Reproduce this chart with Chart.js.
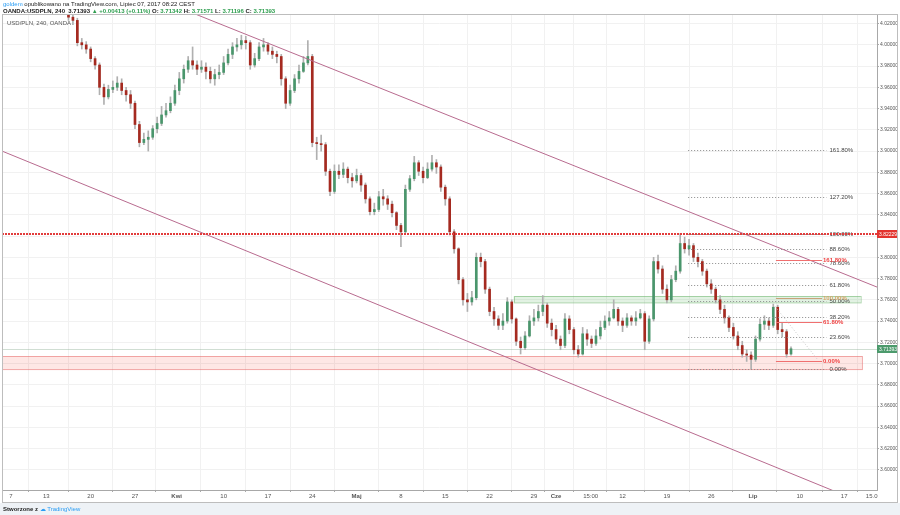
<!DOCTYPE html>
<html>
<head>
<meta charset="utf-8">
<script src="https://cdn.jsdelivr.net/npm/chart.js@4.4.0/dist/chart.umd.min.js"></script>
<style>
    html, body { margin: 0; padding: 0; background: #fff; }
    #wrap { position: relative; width: 900px; height: 515px; overflow: hidden; font-family: "Liberation Sans", Arial, sans-serif; }
    #footer { position: absolute; left: 0; top: 503px; width: 900px; height: 12px; background: #eef2f6; }
    canvas { position: absolute; left: 0; top: 0; }
    .txt { position: absolute; white-space: nowrap; font-size: 6px; line-height: 7px; color: #222; }
    .g { color: #2e9e4f; }
    .b { color: #2a9df4; }
</style>
</head>
<body>
<div id="wrap">
    <div id="footer"></div>
    <canvas id="chart" width="900" height="515"></canvas>
    <div class="txt" style="left:3px;top:1px;"><span class="b">goldem</span> opublikowano na TradingView.com, Lipiec 07, 2017 08:22 CEST</div>
    <div class="txt" style="left:3px;top:8px;font-weight:bold;">OANDA:USDPLN, 240&nbsp; 3.71393 <span class="g">▲ +0.00413 (+0.11%)</span> O: <span class="g">3.71342</span> H: <span class="g">3.71571</span> L: <span class="g">3.71196</span> C: <span class="g">3.71393</span></div>
    <div class="txt" style="left:7px;top:20px;color:#555;">USD/PLN, 240, OANDA</div>
    <div class="txt" style="left:3px;top:506px;font-weight:bold;">Stworzone z <span class="b" style="font-weight:normal;">&#9729; TradingView</span></div>
</div>
<script>
// Dane: swiece 12h od 16 marca (dzien 0 = 7 marca, dni handlowe)
const firstDay = 6.5;
const candleStep = 0.5;
const firstOpen = 4.032;

const closes = [
    4.026, 4.023, 4.002, 4.000, 3.996, 3.987, 3.981, 3.960, 3.951, 3.958,
    3.960, 3.964, 3.957, 3.953, 3.945, 3.925, 3.908, 3.911, 3.913, 3.921,
    3.926, 3.934, 3.938, 3.945, 3.957, 3.968, 3.977, 3.985, 3.981, 3.977,
    3.979, 3.975, 3.968, 3.972, 3.974, 3.983, 3.991, 3.998, 4.000, 4.004,
    4.002, 3.981, 3.987, 3.998, 4.000, 3.994, 3.991, 3.989, 3.968, 3.945,
    3.957, 3.968, 3.975, 3.983, 3.989, 3.908, 3.907, 3.906, 3.881, 3.862,
    3.881, 3.878, 3.883, 3.875, 3.872, 3.877, 3.868, 3.855, 3.843, 3.845,
    3.857, 3.855, 3.850, 3.842, 3.830, 3.824, 3.864, 3.874, 3.889, 3.881,
    3.875, 3.883, 3.889, 3.885, 3.866, 3.855, 3.824, 3.808, 3.779, 3.760,
    3.758, 3.762, 3.800, 3.796, 3.770, 3.749, 3.742, 3.736, 3.740, 3.758,
    3.742, 3.721, 3.715, 3.726, 3.740, 3.743, 3.749, 3.755, 3.738, 3.732,
    3.723, 3.717, 3.742, 3.732, 3.713, 3.709, 3.728, 3.723, 3.719, 3.726,
    3.734, 3.740, 3.743, 3.751, 3.740, 3.736, 3.743, 3.740, 3.743, 3.747,
    3.721, 3.742, 3.796, 3.789, 3.770, 3.760, 3.779, 3.787, 3.813, 3.808,
    3.811, 3.800, 3.796, 3.787, 3.775, 3.770, 3.760, 3.751, 3.743, 3.734,
    3.726, 3.717, 3.709, 3.708, 3.704, 3.723, 3.737, 3.740, 3.736, 3.753,
    3.732, 3.730, 3.709, 3.71393
];
const highs = [
    4.034, 4.028, 4.025, 4.006, 4.003, 3.998, 3.989, 3.983, 3.963, 3.962,
    3.966, 3.970, 3.968, 3.960, 3.957, 3.947, 3.928, 3.917, 3.919, 3.924,
    3.932, 3.942, 3.945, 3.951, 3.962, 3.974, 3.981, 3.989, 3.998, 3.985,
    3.985, 3.983, 3.979, 3.977, 3.981, 3.989, 3.996, 4.002, 4.006, 4.009,
    4.008, 4.004, 3.992, 4.002, 4.006, 4.002, 3.998, 3.994, 3.991, 3.970,
    3.962, 3.972, 3.981, 3.989, 4.004, 3.991, 3.913, 3.915, 3.908, 3.883,
    3.887, 3.887, 3.889, 3.885, 3.879, 3.883, 3.879, 3.870, 3.857, 3.851,
    3.862, 3.864, 3.858, 3.853, 3.843, 3.832, 3.868, 3.877, 3.895, 3.891,
    3.885, 3.889, 3.896, 3.892, 3.887, 3.868, 3.857, 3.826, 3.809, 3.781,
    3.766, 3.768, 3.804, 3.804, 3.798, 3.772, 3.753, 3.745, 3.747, 3.762,
    3.760, 3.743, 3.725, 3.730, 3.745, 3.751, 3.755, 3.764, 3.757, 3.742,
    3.736, 3.726, 3.747, 3.745, 3.734, 3.717, 3.734, 3.732, 3.726, 3.732,
    3.740, 3.745, 3.749, 3.760, 3.753, 3.743, 3.747, 3.745, 3.749, 3.751,
    3.749, 3.745, 3.800, 3.802, 3.792, 3.774, 3.783, 3.792, 3.8223, 3.819,
    3.817, 3.813, 3.804, 3.798, 3.789, 3.779, 3.772, 3.764, 3.755, 3.745,
    3.738, 3.730, 3.721, 3.713, 3.711, 3.726, 3.742, 3.745, 3.743, 3.756,
    3.755, 3.738, 3.732, 3.71571
];
const lows = [
    4.023, 4.019, 3.999, 3.996, 3.992, 3.984, 3.977, 3.953, 3.944, 3.949,
    3.955, 3.957, 3.953, 3.947, 3.940, 3.921, 3.904, 3.906, 3.900, 3.911,
    3.917, 3.924, 3.932, 3.936, 3.943, 3.953, 3.964, 3.974, 3.977, 3.972,
    3.974, 3.968, 3.964, 3.962, 3.968, 3.972, 3.981, 3.987, 3.994, 3.996,
    3.996, 3.977, 3.979, 3.985, 3.994, 3.991, 3.987, 3.983, 3.962, 3.940,
    3.943, 3.955, 3.964, 3.974, 3.981, 3.904, 3.892, 3.900, 3.877, 3.858,
    3.860, 3.874, 3.875, 3.870, 3.866, 3.870, 3.862, 3.851, 3.840, 3.840,
    3.843, 3.849, 3.845, 3.838, 3.826, 3.810, 3.823, 3.862, 3.872, 3.877,
    3.870, 3.874, 3.881, 3.879, 3.862, 3.849, 3.821, 3.804, 3.775, 3.755,
    3.749, 3.755, 3.760, 3.791, 3.766, 3.745, 3.736, 3.732, 3.732, 3.738,
    3.738, 3.717, 3.709, 3.713, 3.725, 3.736, 3.740, 3.745, 3.734, 3.726,
    3.719, 3.713, 3.715, 3.728, 3.709, 3.706, 3.708, 3.717, 3.715, 3.717,
    3.723, 3.732, 3.736, 3.742, 3.736, 3.730, 3.734, 3.736, 3.736, 3.742,
    3.713, 3.719, 3.740, 3.785, 3.766, 3.757, 3.758, 3.777, 3.785, 3.804,
    3.802, 3.796, 3.791, 3.783, 3.772, 3.766, 3.757, 3.747, 3.738, 3.730,
    3.723, 3.713, 3.706, 3.702, 3.695, 3.702, 3.721, 3.732, 3.732, 3.734,
    3.728, 3.725, 3.706, 3.708
];

// Os czasu
const tickDays = [0, 4, 9, 14, 18.7, 24, 29, 34, 39, 44, 49, 54, 59, 61.5, 65.4, 69, 74, 79, 83.7, 89, 94, 97.1];
const tickLabels = ['7', '13', '20', '27', 'Kwi', '10', '17', '24', 'Maj', '8', '15', '22', '29', 'Cze', '15:00', '12', '19', '26', 'Lip', '10', '17', '15.0'];
const monthLabels = ['Kwi', 'Maj', 'Cze', 'Lip'];
const priceTicks = [3.60, 3.62, 3.64, 3.66, 3.68, 3.70, 3.72, 3.74, 3.76, 3.78, 3.80,
                    3.82, 3.84, 3.86, 3.88, 3.90, 3.92, 3.94, 3.96, 3.98, 4.00, 4.02];

// Linie kanalu [dzien, cena]
const channelUpper = [[16, 4.045], [98, 3.771]];
const channelLower = [[-1, 3.900], [98, 3.5625]];

// Poziomy
const resistance = 3.82229;
const lastPrice = 3.71393;
const greenZone = { from: 56.7, to: 95.8, low: 3.7575, high: 3.7635 };
const redZone = { from: -1, to: 96.0, low: 3.6945, high: 3.7068 };

// Fibonacci
const fibRatios = [0, 0.236, 0.382, 0.5, 0.618, 0.786, 0.886, 1, 1.272, 1.618];
const fibLow = 3.6953, fibHigh = 3.82229;
const fibFrom = 76.4, fibTo = 92.0;
const fib2Ratios = [0, 0.618, 1, 1.618];
const fib2Low = 3.7028, fib2High = 3.7613;
const fib2From = 86.3, fib2To = 91.5;
const trendDash = [[86.2, 3.7538], [91.0, 3.7038]];

const days = closes.map((c, i) => firstDay + i * candleStep);
const opens = closes.map((c, i) => i === 0 ? firstOpen : closes[i - 1]);

const UP = '#4a966c', DOWN = '#a52a20';
const FONT = '"Liberation Sans", Arial, sans-serif';

const overlay = {
    id: 'overlay',
    beforeDatasetsDraw(chart) {
        const { ctx, chartArea: a, scales: { x, y } } = chart;
        ctx.save();
        ctx.beginPath();
        ctx.rect(a.left, a.top, a.right - a.left, a.bottom - a.top);
        ctx.clip();
        const zone = (z, fill, stroke) => {
            const x1 = x.getPixelForValue(z.from), x2 = x.getPixelForValue(z.to);
            const y1 = y.getPixelForValue(z.high), y2 = y.getPixelForValue(z.low);
            ctx.fillStyle = fill;
            ctx.fillRect(x1, y1, x2 - x1, y2 - y1);
            ctx.strokeStyle = stroke;
            ctx.lineWidth = 1;
            ctx.strokeRect(Math.round(x1) + 0.5, Math.round(y1) + 0.5, x2 - x1, y2 - y1);
        };
        zone(redZone, 'rgba(244, 67, 54, 0.13)', 'rgba(230, 100, 100, 0.55)');
        zone(greenZone, 'rgba(76, 175, 80, 0.16)', 'rgba(110, 180, 110, 0.55)');
        // linia ostatniej ceny
        const yl = Math.round(y.getPixelForValue(lastPrice)) + 0.5;
        ctx.strokeStyle = 'rgba(120, 160, 130, 0.35)';
        ctx.beginPath();
        ctx.moveTo(a.left, yl);
        ctx.lineTo(a.right, yl);
        ctx.stroke();
        ctx.restore();
    },
    afterDatasetsDraw(chart) {
        const { ctx, chartArea: a, scales: { x, y } } = chart;
        ctx.save();
        ctx.beginPath();
        ctx.rect(a.left, a.top, a.right - a.left, a.bottom - a.top);
        ctx.clip();
        ctx.font = '6px ' + FONT;
        ctx.textBaseline = 'middle';

        // siatka fibo 1
        const fx1 = x.getPixelForValue(fibFrom), fx2 = x.getPixelForValue(fibTo);
        fibRatios.forEach(r => {
            const yy = Math.round(y.getPixelForValue(fibLow + r * (fibHigh - fibLow))) + 0.5;
            ctx.strokeStyle = '#8a8a8a';
            ctx.setLineDash([1, 2]);
            ctx.lineWidth = 1;
            ctx.beginPath();
            ctx.moveTo(fx1, yy);
            ctx.lineTo(fx2, yy);
            ctx.stroke();
            ctx.setLineDash([]);
            ctx.fillStyle = '#444';
            ctx.fillText((r * 100).toFixed(2) + '%', fx2 + 3, yy);
        });

        // rozszerzenie fibo 2
        const gx1 = x.getPixelForValue(fib2From), gx2 = x.getPixelForValue(fib2To);
        ctx.font = 'bold 6px ' + FONT;
        fib2Ratios.forEach(r => {
            const yy = Math.round(y.getPixelForValue(fib2Low + r * (fib2High - fib2Low))) + 0.5;
            ctx.strokeStyle = r === 1 ? '#c9a27a' : '#f07070';
            ctx.lineWidth = 1;
            ctx.beginPath();
            ctx.moveTo(gx1, yy);
            ctx.lineTo(gx2, yy);
            ctx.stroke();
            ctx.fillStyle = r === 1 ? '#d9a46a' : '#ee4444';
            ctx.fillText((r * 100).toFixed(2) + '%', gx2 + 1, yy);
        });

        // przerywana linia trendu
        ctx.strokeStyle = '#c8c8c8';
        ctx.setLineDash([1, 2]);
        ctx.beginPath();
        ctx.moveTo(x.getPixelForValue(trendDash[0][0]), y.getPixelForValue(trendDash[0][1]));
        ctx.lineTo(x.getPixelForValue(trendDash[1][0]), y.getPixelForValue(trendDash[1][1]));
        ctx.stroke();

        // opor 3.82229
        const yr = Math.round(y.getPixelForValue(resistance));
        ctx.strokeStyle = '#e23c3c';
        ctx.lineWidth = 2;
        ctx.setLineDash([2, 1]);
        ctx.beginPath();
        ctx.moveTo(a.left, yr);
        ctx.lineTo(a.right, yr);
        ctx.stroke();
        ctx.setLineDash([]);
        ctx.restore();
    },
    afterDraw(chart) {
        const { ctx, chartArea: a, scales: { y } } = chart;
        ctx.save();
        ctx.font = '5px ' + FONT;
        ctx.textBaseline = 'middle';
        const box = (v, col) => {
            const yy = Math.round(y.getPixelForValue(v));
            ctx.fillStyle = col;
            ctx.fillRect(a.right, yy - 4, 20, 8);
            ctx.fillStyle = '#fff';
            ctx.fillText(v.toFixed(5), a.right + 2, yy + 0.5);
        };
        box(resistance, '#e3342f');
        box(lastPrice, '#4c9a6c');
        // ramka wykresu
        ctx.strokeStyle = '#bdbdbd';
        ctx.lineWidth = 1;
        ctx.strokeRect(2.5, 14.5, 895, 488);
        ctx.restore();
    }
};

new Chart(document.getElementById('chart'), {
    type: 'bar',
    data: {
        datasets: [
            {
                type: 'line',
                data: channelUpper.map(p => ({ x: p[0], y: p[1] })),
                borderColor: '#b86b8f',
                borderWidth: 1,
                pointRadius: 0,
                order: 0
            },
            {
                type: 'line',
                data: channelLower.map(p => ({ x: p[0], y: p[1] })),
                borderColor: '#b86b8f',
                borderWidth: 1,
                pointRadius: 0,
                order: 0
            },
            {
                label: 'knoty',
                data: days.map((d, i) => ({ x: d, y: [lows[i], highs[i]] })),
                backgroundColor: '#b0b0b0',
                barThickness: 1,
                grouped: false,
                order: 2
            },
            {
                label: 'korpusy',
                data: days.map((d, i) => ({ x: d, y: [opens[i], closes[i]] })),
                backgroundColor: closes.map((c, i) => c >= opens[i] ? UP : DOWN),
                barThickness: 2,
                minBarLength: 1,
                grouped: false,
                order: 1
            }
        ]
    },
    options: {
        responsive: false,
        animation: false,
        layout: { padding: { left: 2, top: 14, right: 3, bottom: 13 } },
        plugins: { legend: { display: false }, tooltip: { enabled: false } },
        scales: {
            x: {
                type: 'linear',
                min: -1,
                max: 97.7,
                offset: false,
                afterBuildTicks: s => { s.ticks = tickDays.map(v => ({ value: v })); },
                afterFit: s => { s.height = 12; },
                grid: { color: '#f1f1f1', tickColor: '#aaa', tickLength: 2 },
                border: { color: '#a8a8a8' },
                ticks: {
                    autoSkip: false,
                    maxRotation: 0,
                    padding: 1,
                    color: '#555',
                    font: c => ({ size: 6, family: FONT,
                                  weight: monthLabels.includes(tickLabels[c.index]) ? 'bold' : 'normal' }),
                    callback: (v, i) => tickLabels[i]
                }
            },
            y: {
                type: 'linear',
                position: 'right',
                min: 3.581,
                max: 4.029,
                afterBuildTicks: s => { s.ticks = priceTicks.map(v => ({ value: v })); },
                afterFit: s => { s.width = 20; },
                grid: { color: '#f1f1f1', tickColor: '#aaa', tickLength: 2 },
                border: { color: '#a8a8a8' },
                ticks: {
                    padding: 1,
                    color: '#555',
                    font: { size: 5, family: FONT },
                    callback: v => v.toFixed(5)
                }
            }
        }
    },
    plugins: [overlay]
});
</script>
</body>
</html>
